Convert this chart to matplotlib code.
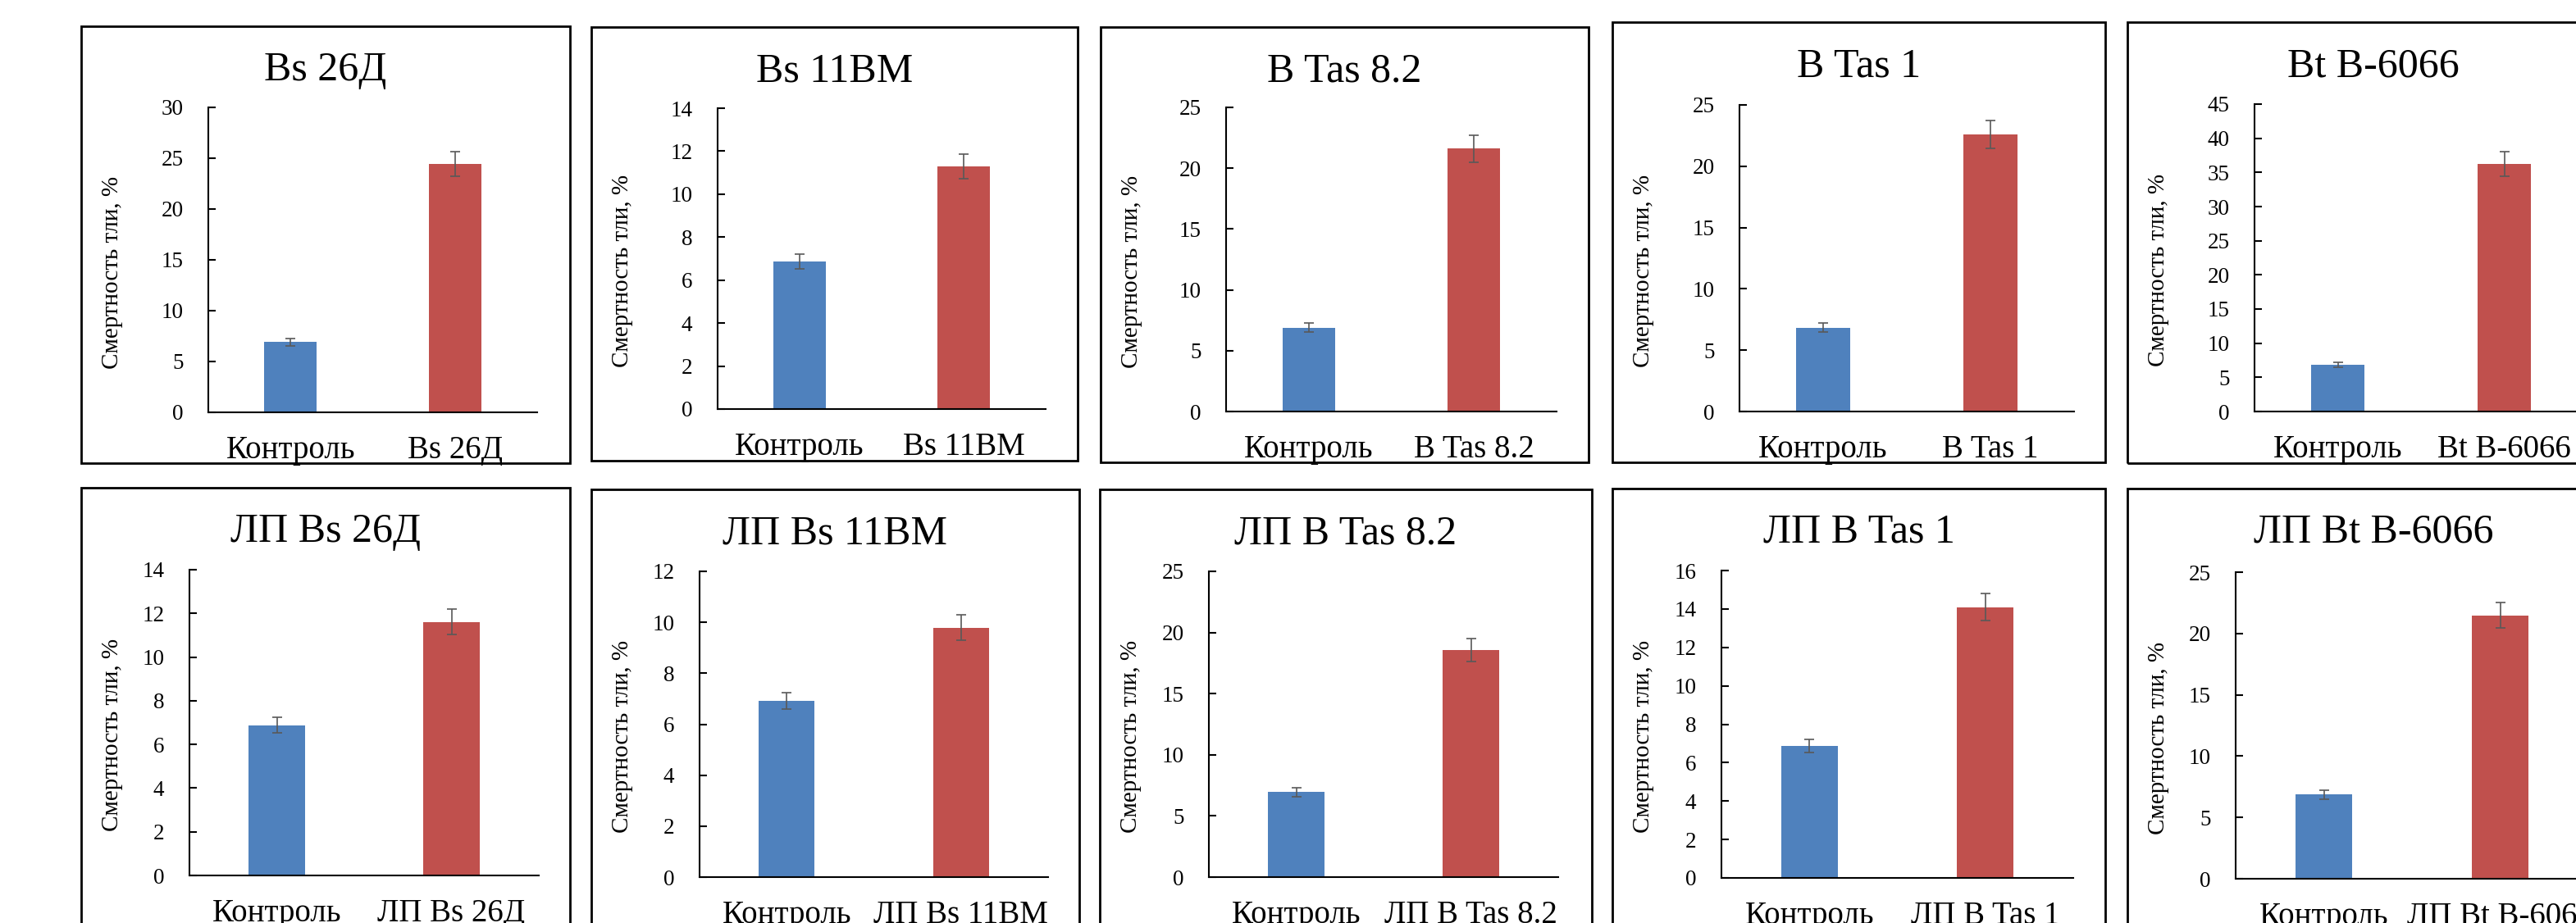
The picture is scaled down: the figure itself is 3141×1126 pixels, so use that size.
import matplotlib
matplotlib.use("Agg")
import matplotlib.pyplot as plt
from matplotlib.patches import Rectangle

plt.rcParams['font.family'] = ['Liberation Serif', 'DejaVu Serif']

# ---------------- data ----------------
titles = ["Bs 26Д", "Bs 11BM", "B Tas 8.2", "B Tas 1", "Bt B-6066",
          "ЛП Bs 26Д", "ЛП Bs 11BM", "ЛП B Tas 8.2", "ЛП B Tas 1", "ЛП Bt B-6066"]
control_label = "Контроль"
control = [6.9, 6.86, 6.9, 6.85, 6.83, 6.88, 6.92, 6.94, 6.86, 6.86]
control_err = [0.38, 0.35, 0.35, 0.35, 0.40, 0.35, 0.33, 0.34, 0.33, 0.35]
treated = [24.45, 11.28, 21.6, 22.6, 36.2, 11.6, 9.79, 18.57, 14.1, 21.48]
treated_err = [1.2, 0.57, 1.1, 1.15, 1.8, 0.58, 0.49, 0.92, 0.7, 1.05]
ymax = [30, 14, 25, 25, 45, 14, 12, 25, 16, 25]
ystep = [5, 2, 5, 5, 5, 2, 2, 5, 2, 5]
ylabel = "Смертность тли, %"

# ---------------- layout (pixels) ----------------
W, H = 3141, 1126
frames = [(99, 32, 695, 565), (721, 33, 1314, 562), (1342, 33, 1937, 564),
          (1966, 27, 2567, 564), (2594, 27, 3194, 565),
          (99, 595, 695, 1128), (721, 597, 1316, 1130), (1341, 597, 1941, 1130),
          (1966, 596, 2567, 1129), (2594, 596, 3194, 1129)]
axes_px = [(254, 131, 655, 503), (875, 132, 1275, 499), (1495, 131, 1898, 502),
           (2121, 128, 2529, 502), (2749, 127, 3155, 502),
           (231, 695, 657, 1068), (853, 697, 1278, 1070), (1474, 697, 1900, 1070),
           (2099, 696, 2528, 1071), (2726, 698, 3156, 1072)]

BLUE = "#4F81BD"
RED = "#C0504D"

fig = plt.figure(figsize=(W / 100, H / 100), dpi=100)
fig.patch.set_facecolor("white")


def fx(x):
    return x / W


def fy(y):
    return 1 - y / H


for i in range(10):
    x0, y0, x1, y1 = frames[i]
    fig.add_artist(Rectangle((fx(x0), fy(y1)), fx(x1) - fx(x0), fy(y0) - fy(y1),
                             transform=fig.transFigure, fill=False,
                             edgecolor="black", linewidth=2.0, zorder=0))
    ax0, ay0, ax1, ay1 = axes_px[i]
    ax = fig.add_axes([fx(ax0), fy(ay1), fx(ax1) - fx(ax0), fy(ay0) - fy(ay1)])
    ax.patch.set_alpha(0)
    cats = [control_label, titles[i]]
    vals = [control[i], treated[i]]
    errs = [control_err[i], treated_err[i]]
    ax.bar(range(2), vals, width=0.32, color=[BLUE, RED],
           yerr=errs, error_kw=dict(ecolor="#595959", elinewidth=1.2,
                                     capsize=4.5, capthick=1.2))
    ax.set_xlim(-0.5, 1.5)
    ax.set_ylim(0, ymax[i])
    ax.set_yticks(range(0, ymax[i] + 1, ystep[i]))
    ax.set_xticks(range(2))
    ax.set_xticklabels(cats, fontsize=28)
    ax.tick_params(axis="x", length=0, pad=20)
    ax.tick_params(axis="y", direction="in", length=6.2, width=1.5,
                   labelsize=19.5, pad=22)
    for s in ("top", "right"):
        ax.spines[s].set_visible(False)
    for s in ("left", "bottom"):
        ax.spines[s].set_linewidth(1.5)
    # title
    fig.text(fx((x0 + x1) / 2), fy(y0 + 66), titles[i], fontsize=36,
             ha="center", va="baseline")
    # y label
    fig.text(fx(x0 + 38), fy((ay0 + ay1) / 2 + 15), ylabel, fontsize=21,
             rotation=90, ha="center", va="center")

fig.savefig("out.png", dpi=100, facecolor="white")
